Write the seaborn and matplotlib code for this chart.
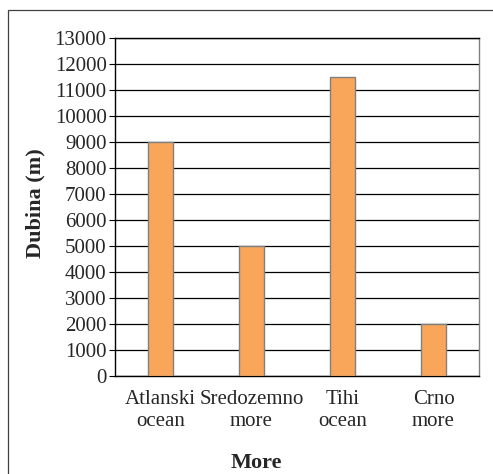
import matplotlib
matplotlib.use("Agg")
import matplotlib.pyplot as plt
import seaborn as sns
import numpy as np
import pandas as pd
from matplotlib.patches import Rectangle

# --- data ---
mora = ["Atlanski\nocean", "Sredozemno\nmore", "Tihi\nocean", "Crno\nmore"]
dubina = [9000, 5000, 11500, 2000]

df = pd.DataFrame({"More": mora, "Dubina": dubina})

sns.set_style("white")
plt.rcParams["font.family"] = ["Liberation Serif", "DejaVu Serif"]

W, H = 493, 474
fig = plt.figure(figsize=(W / 100, H / 100), dpi=100)
ax = fig.add_axes([115 / W, 1 - 376 / H, 364 / W, 338 / H])

sns.barplot(data=df, x="More", y="Dubina", color="#F9A65A", width=0.27,
            edgecolor="#808080", linewidth=1.0, saturation=1, ax=ax, zorder=3)

ax.set_ylim(0, 13000)
ax.set_xlim(-0.5, 3.5)
ax.set_yticks(np.arange(0, 13001, 1000))
ax.yaxis.grid(True, color="black", linewidth=0.9, zorder=0)
ax.set_axisbelow(True)

# tick marks between categories
ax.set_xticks(np.arange(-0.5, 4, 1.0), minor=True)
ax.tick_params(axis="x", which="major", length=0, labelsize=15, pad=10)
ax.tick_params(axis="x", which="minor", length=4, color="black")
ax.tick_params(axis="y", which="major", length=4, labelsize=15, left=True,
               color="black", pad=2)
for lab in ax.get_xticklabels():
    lab.set_linespacing(1.2)

ax.spines["left"].set_color("black")
ax.spines["bottom"].set_color("black")
ax.spines["top"].set_color("black")
ax.spines["right"].set_color("#808080")
for s in ax.spines.values():
    s.set_linewidth(1.0)

ax.set_xlabel("")
ax.set_ylabel("")
fig.text(256 / W, 1 - 463 / H, "More", fontsize=16, fontweight="bold",
         ha="center", va="center")
fig.text(35 / W, 1 - 203 / H, "Dubina (m)", fontsize=16, fontweight="bold",
         ha="center", va="center", rotation=90)

# outer chart border
fig.patches.append(Rectangle((8 / W, -0.05), 1.0, 1 - 10 / H + 0.05,
                             transform=fig.transFigure, fill=False,
                             edgecolor="#404040", linewidth=0.9))

fig.savefig("out.png", dpi=100)
